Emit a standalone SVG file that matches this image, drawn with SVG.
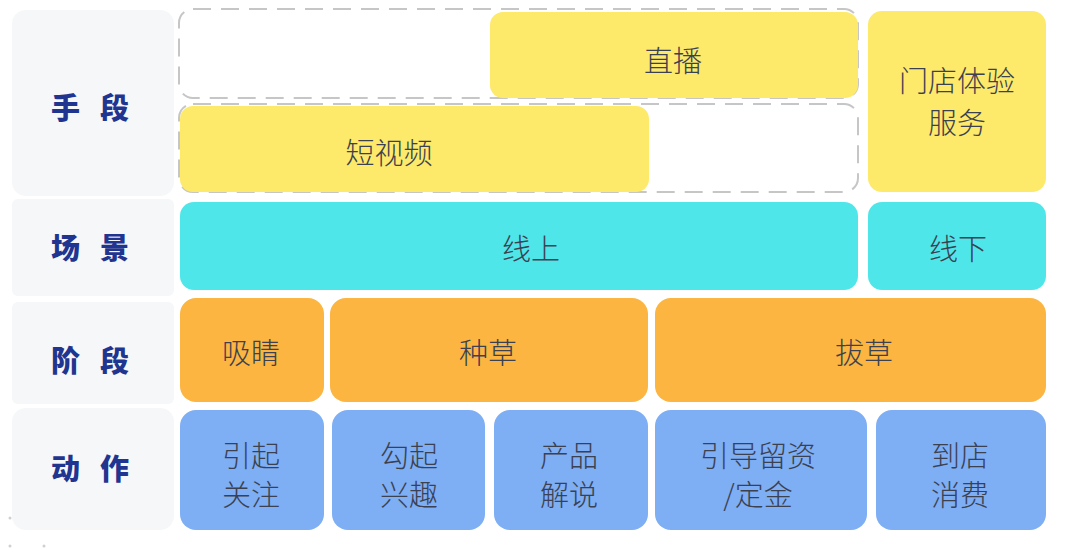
<svg xmlns="http://www.w3.org/2000/svg" width="1080" height="553" viewBox="0 0 1080 553">
<style>
.lab{fill:#f6f7f8}
.lt{font-family:"Noto Sans CJK SC","Noto Sans",sans-serif;font-weight:900;font-size:29px;fill:#1f3590;text-anchor:middle;dominant-baseline:central;letter-spacing:20px}
.t{font-family:"Noto Sans CJK SC","Noto Sans",sans-serif;font-weight:300;font-size:29px;fill:#3b4150;text-anchor:middle;dominant-baseline:central}
.y{fill:#fde96a}.c{fill:#4fe6ea}.o{fill:#fbb540}.b{fill:#7eaef4}
.dash{fill:none;stroke:#c6c6c6;stroke-width:2;stroke-dasharray:18 10}
</style>
<rect width="1080" height="553" fill="#ffffff"/>
<g id="labels">
<g id="label-shouduan"><rect class="lab" x="12" y="10" width="162" height="186" rx="14"/><text class="lt" x="100" y="106">手段</text></g>
<g id="label-changjing"><rect class="lab" x="12" y="199" width="162" height="97" rx="6"/><text class="lt" x="100" y="246">场景</text></g>
<g id="label-jieduan"><rect class="lab" x="12" y="302" width="162" height="102" rx="6"/><text class="lt" x="100" y="359">阶段</text></g>
<g id="label-dongzuo"><rect class="lab" x="12" y="408" width="162" height="122" rx="14"/><text class="lt" x="100" y="467">动作</text></g>
</g>
<g id="connectors">
<rect class="dash" x="179" y="9" width="679" height="89" rx="14"/>
<rect class="dash" x="179" y="104" width="679" height="88" rx="14"/>
</g>
<g id="n-zhibo"><rect class="y" x="490" y="12" width="368" height="86" rx="13"/><text class="t" x="673" y="59">直播</text></g>
<g id="n-duanshipin"><rect class="y" x="180" y="106" width="469" height="86" rx="13"/><text class="t" x="389" y="151">短视频</text></g>
<g id="n-mendian"><rect class="y" x="868" y="11" width="178" height="181" rx="14"/><text class="t" x="957" y="79">门店体验</text><text class="t" x="957" y="121">服务</text></g>
<g id="n-xianshang"><rect class="c" x="180" y="202" width="678" height="88" rx="14"/><text class="t" x="531" y="247">线上</text></g>
<g id="n-xianxia"><rect class="c" x="868" y="202" width="178" height="88" rx="14"/><text class="t" x="958" y="247">线下</text></g>
<g id="n-xijing"><rect class="o" x="180" y="298" width="144" height="104" rx="16"/><text class="t" x="251" y="351">吸睛</text></g>
<g id="n-zhongcao"><rect class="o" x="330" y="298" width="318" height="104" rx="16"/><text class="t" x="488" y="351">种草</text></g>
<g id="n-bacao"><rect class="o" x="655" y="298" width="391" height="104" rx="16"/><text class="t" x="864" y="351">拔草</text></g>
<g id="n-yinqi"><rect class="b" x="180" y="410" width="144" height="120" rx="16"/><text class="t" x="251" y="454">引起</text><text class="t" x="251" y="493">关注</text></g>
<g id="n-gouqi"><rect class="b" x="332" y="410" width="153" height="120" rx="16"/><text class="t" x="409" y="454">勾起</text><text class="t" x="409" y="493">兴趣</text></g>
<g id="n-chanpin"><rect class="b" x="494" y="410" width="154" height="120" rx="16"/><text class="t" x="569" y="454">产品</text><text class="t" x="569" y="493">解说</text></g>
<g id="n-yindao"><rect class="b" x="655" y="410" width="212" height="120" rx="16"/><text class="t" x="758" y="454">引导留资</text><text class="t" x="758" y="493">/定金</text></g>
<g id="n-daodian"><rect class="b" x="876" y="410" width="170" height="120" rx="16"/><text class="t" x="960" y="454">到店</text><text class="t" x="960" y="493">消费</text></g>
<g id="dots" fill="#d0d0d0"><circle cx="10" cy="518" r="1.5"/><circle cx="10" cy="546" r="1.5"/><circle cx="44" cy="546" r="1.5"/></g>
</svg>
